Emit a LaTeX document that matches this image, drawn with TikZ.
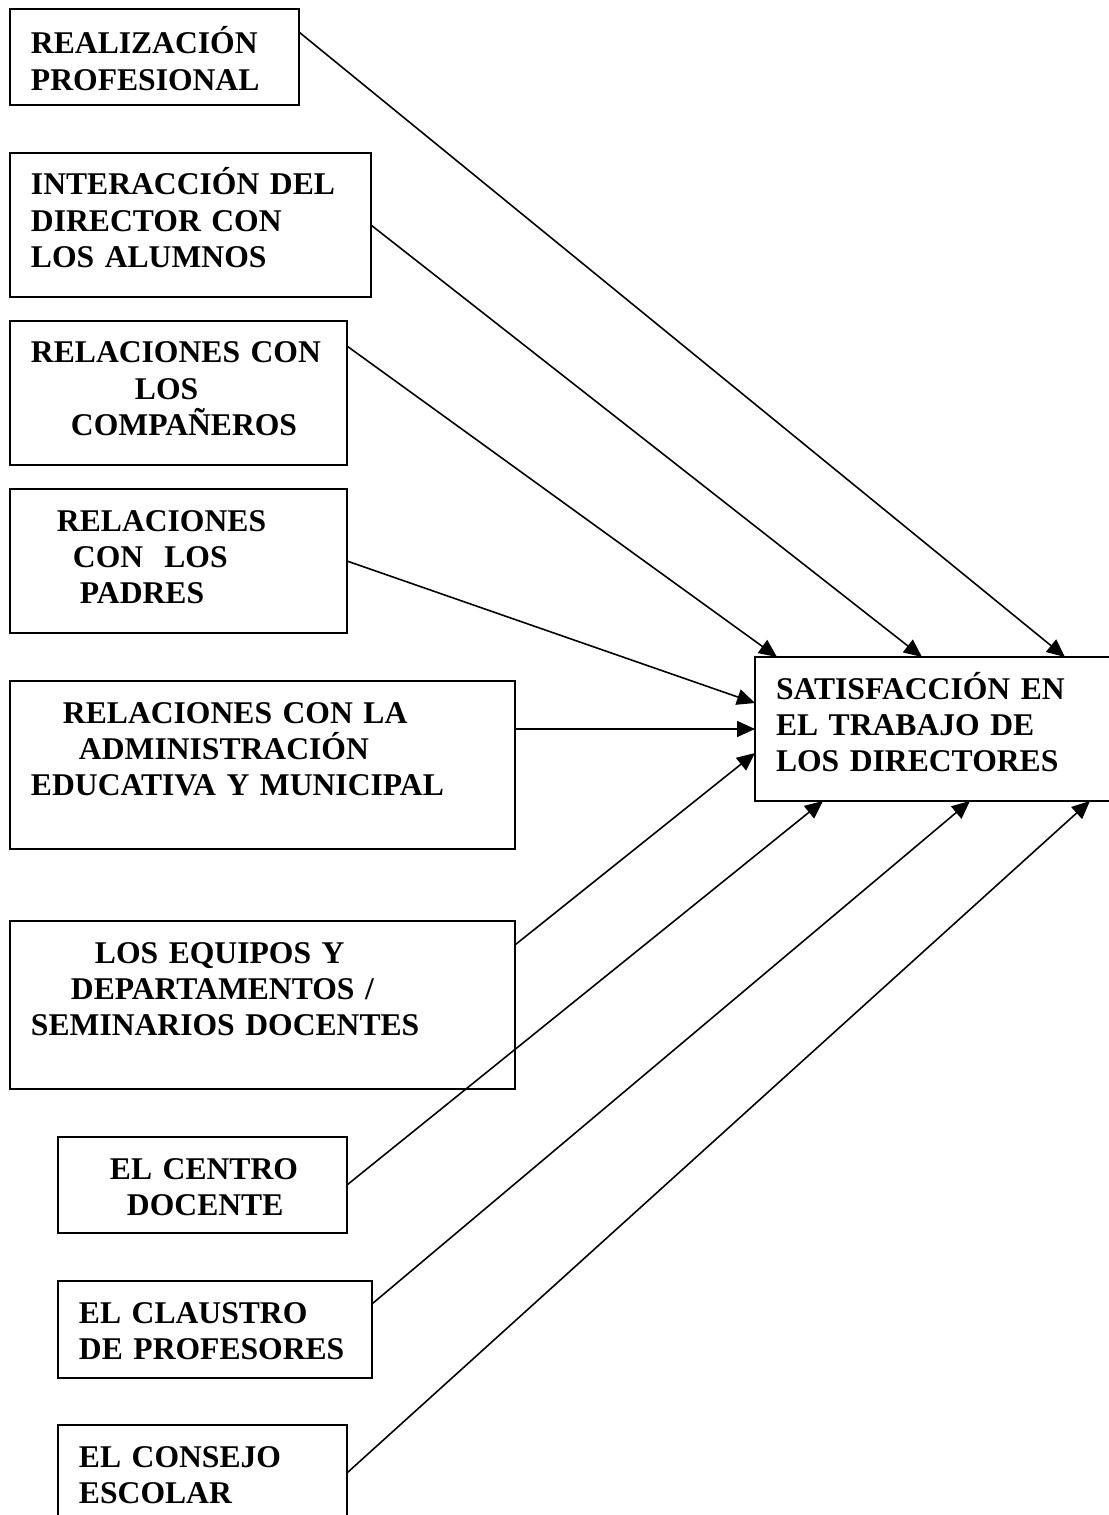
\documentclass[tikz,border=0pt]{standalone}
\usepackage{fontspec}
\setmainfont{Liberation Serif}
\usetikzlibrary{arrows.meta}

\tikzset{
  factor/.style={draw, rectangle, line width=1.1pt, anchor=north west, align=left,
    outer sep=0pt, inner xsep=0.42cm, inner ysep=0pt, text height=0.84cm,
    font=\bfseries\fontsize{18}{20.7}\selectfont},
  influye/.style={line width=0.9pt, -{Triangle[length=0.36cm,width=0.32cm]}}
}

\begin{document}
\begin{tikzpicture}[x=0.02cm, y=-0.02cm]
			\useasboundingbox (0,0) rectangle (1109,1515);

			\node[factor, text width=4.94cm, text height=0.9cm, text depth=1.02cm] (Realizacion) at (10,9)
			{REALIZACIÓN\\PROFESIONAL};
			\node[factor, text width=6.38cm, text depth=2.04cm] (Interaccion) at (10,153)
			{INTERACCIÓN DEL\\DIRECTOR CON\\LOS ALUMNOS};
			\node[factor, text width=5.90cm, text depth=2.04cm] (Companeros) at (10,321)
			{RELACIONES CON\\\hspace*{2.08cm}LOS\\\hspace*{0.8cm}COMPAÑEROS};
			\node[factor, text width=5.90cm, text depth=2.04cm] (Padres) at (10,489)
			{\hspace*{0.52cm}RELACIONES\\\hspace*{0.84cm}CON~ LOS\\\hspace*{0.98cm}PADRES};
			\node[factor, text width=9.26cm, text depth=2.52cm] (Administracion) at (10,681)
			{\hspace*{0.64cm}RELACIONES CON LA\\\hspace*{0.96cm}ADMINISTRACIÓN\\EDUCATIVA Y MUNICIPAL};
			\node[factor, text width=9.26cm, text depth=2.52cm] (Equipos) at (10,921)
			{\hspace*{1.28cm}LOS EQUIPOS Y\\\hspace*{0.8cm}DEPARTAMENTOS /\\SEMINARIOS DOCENTES};
			\node[factor, text width=4.94cm, text depth=1.08cm] (Centro) at (58,1137)
			{\hspace*{0.62cm}EL CENTRO\\\hspace*{0.96cm}DOCENTE};
			\node[factor, text width=5.44cm, text depth=1.10cm] (Claustro) at (58,1281)
			{EL CLAUSTRO\\DE PROFESORES};
			\node[factor, text width=4.94cm, text depth=1.08cm] (Consejo) at (58,1425)
			{EL CONSEJO\\ESCOLAR};

			\node[factor, text width=6.46cm, text depth=2.04cm] (Satisfaccion) at (755,657)
			{SATISFACCIÓN EN\\EL TRABAJO DE\\LOS DIRECTORES};

			\draw[influye] ([yshift=-0.46cm]Realizacion.north east) -- ([xshift=6.2cm]Satisfaccion.north west);
			\draw[influye] (Interaccion.east) -- ([xshift=3.34cm]Satisfaccion.north west);
			\draw[influye] ([yshift=-0.5cm]Companeros.north east) -- ([xshift=0.44cm]Satisfaccion.north west);
			\draw[influye] (Padres.east) -- ([yshift=-0.92cm]Satisfaccion.north west);
			\draw[influye] (Satisfaccion.west -| Administracion.east) -- (Satisfaccion.west);
			\draw[influye] ([yshift=-0.48cm]Equipos.north east) -- ([yshift=-0.48cm]Satisfaccion.west);
			\draw[influye] (Centro.east) -- ([xshift=1.36cm]Satisfaccion.south west);
			\draw[influye] ([yshift=-0.46cm]Claustro.north east) -- ([xshift=4.3cm]Satisfaccion.south west);
			\draw[influye] ([yshift=-0.96cm]Consejo.north east) -- ([xshift=6.7cm]Satisfaccion.south west);
\end{tikzpicture}
\end{document}
